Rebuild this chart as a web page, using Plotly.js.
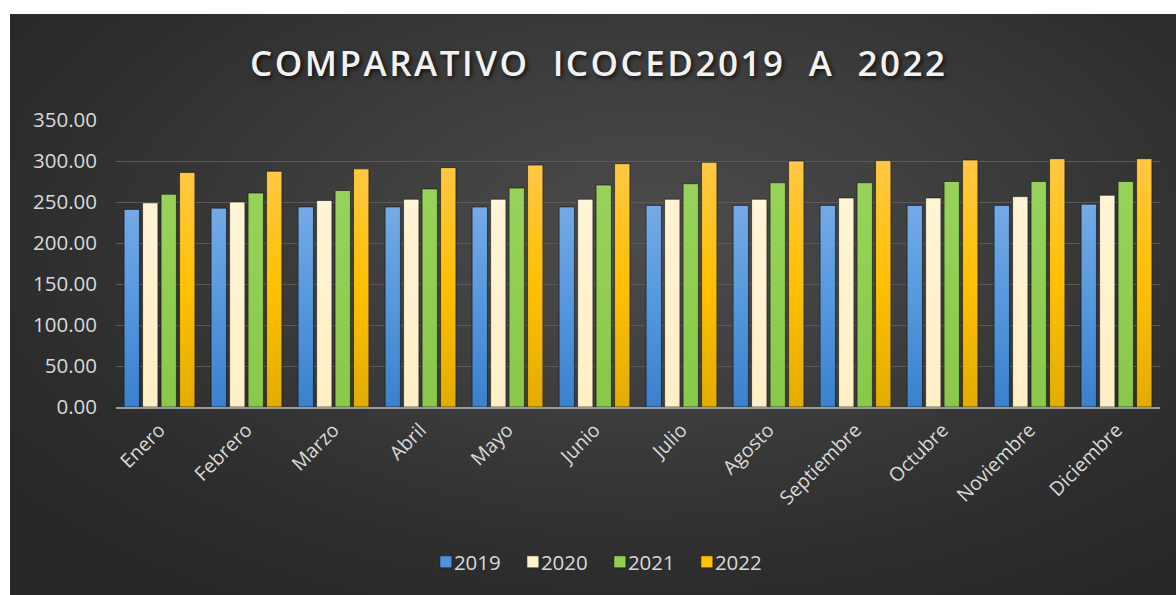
<!DOCTYPE html>
<html>
<head>
<meta charset="utf-8">
<script src="https://cdn.plot.ly/plotly-3.0.1.min.js"></script>
<style>
  html, body { margin: 0; padding: 0; background: #ffffff; width: 1176px; height: 595px; overflow: hidden; }
  #frame {
    position: absolute; left: 10px; top: 14px; width: 1166px; height: 581px;
    background: radial-gradient(ellipse 70% 75% at 55% 38%, #4c4c4c 0%, #3d3d3d 40%, #2e2e2e 75%, #272727 100%);
  }
  #chart { width: 1166px; height: 581px; }
  .gtitle { letter-spacing: 2.5px; }
  .barlayer .trace:nth-child(1) .point path { fill: url(#gBlue) !important; }
  .barlayer .trace:nth-child(2) .point path { fill: url(#gCream) !important; }
  .barlayer .trace:nth-child(3) .point path { fill: url(#gGreen) !important; }
  .barlayer .trace:nth-child(4) .point path { fill: url(#gGold) !important; }
  .legend .legendpoints { transform: translateX(12px); }
</style>
</head>
<body>
<svg width="0" height="0" style="position:absolute">
  <defs>
    <linearGradient id="gBlue" x1="0" y1="0" x2="0" y2="1">
      <stop offset="0" stop-color="#74aae6"/><stop offset="0.5" stop-color="#5497dd"/><stop offset="1" stop-color="#3a80cc"/>
    </linearGradient>
    <linearGradient id="gCream" x1="0" y1="0" x2="0" y2="1">
      <stop offset="0" stop-color="#fff4d6"/><stop offset="1" stop-color="#ffefc6"/>
    </linearGradient>
    <linearGradient id="gGreen" x1="0" y1="0" x2="0" y2="1">
      <stop offset="0" stop-color="#97d35a"/><stop offset="1" stop-color="#89c84a"/>
    </linearGradient>
    <linearGradient id="gGold" x1="0" y1="0" x2="0" y2="1">
      <stop offset="0" stop-color="#ffc845"/><stop offset="0.5" stop-color="#ffc000"/><stop offset="1" stop-color="#e3ac00"/>
    </linearGradient>
  </defs>
</svg>
<div id="frame"><div id="chart"></div></div>
<script>
const months = ["Enero","Febrero","Marzo","Abril","Mayo","Junio","Julio","Agosto","Septiembre","Octubre","Noviembre","Diciembre"];
const v2019 = [241.0, 242.5, 244.0, 244.0, 244.0, 244.0, 245.8, 245.8, 245.8, 245.8, 245.8, 247.4];
const v2020 = [249.0, 250.0, 251.8, 253.4, 253.4, 253.4, 253.4, 253.4, 255.0, 255.0, 256.6, 258.2];
const v2021 = [259.4, 261.0, 264.0, 265.9, 267.0, 270.7, 272.3, 273.5, 273.5, 275.0, 275.0, 275.0];
const v2022 = [285.9, 287.5, 290.4, 291.9, 295.0, 296.7, 298.4, 300.0, 300.5, 301.2, 302.8, 302.8];
const seriesNames = ["2019","2020","2021","2022"];
const seriesColors = ["#4f92dc","#fff2cc","#92d050","#ffc000"];
const seriesValues = [v2019, v2020, v2021, v2022];

const font = "Open Sans, Liberation Sans, sans-serif";
const traces = seriesValues.map((vals, i) => ({
  type: "bar",
  name: seriesNames[i],
  x: months,
  y: vals,
  marker: { color: seriesColors[i], line: { color: "rgba(20,20,20,0.6)", width: 1 } },
  hoverinfo: "x+y+name"
}));

const layout = {
  width: 1166, height: 581,
  paper_bgcolor: "rgba(0,0,0,0)",
  plot_bgcolor: "rgba(0,0,0,0)",
  margin: { l: 106, r: 16, t: 105.5, b: 185.5 },
  barmode: "group",
  bargap: 0.15,
  bargroupgap: 0.17,
  title: {
    text: "COMPARATIVO  ICOCED2019  A  2022",
    x: 0.505, xanchor: "center",
    y: 0.915, yanchor: "middle",
    font: { family: font, size: 35, color: "#f2f2f2", weight: 600, shadow: "2px 2px 4px rgba(0,0,0,0.7)" }
  },
  xaxis: {
    type: "category",
    tickangle: -45,
    tickfont: { family: font, size: 19.5, color: "#d9d9d9" },
    showline: true, linecolor: "#9a9a9a", linewidth: 2,
    showgrid: false, ticks: "", ticklabelstandoff: 2
  },
  yaxis: {
    range: [0, 350],
    tickvals: [0, 50, 100, 150, 200, 250, 300, 350],
    tickformat: ".2f",
    tickfont: { family: font, size: 20.5, color: "#d9d9d9" },
    gridcolor: "#5a5a5a", gridwidth: 1,
    zeroline: false, showline: false, ticks: "",
    ticklabelstandoff: 18
  },
  legend: {
    orientation: "h",
    x: 0.452, xanchor: "center",
    y: -0.54, yanchor: "middle",
    font: { family: font, size: 20.5, color: "#d9d9d9" },
    bgcolor: "rgba(0,0,0,0)",
    itemwidth: 30,
    entrywidth: 42, entrywidthmode: "pixels",
    traceorder: "normal"
  },
  showlegend: true
};

Plotly.newPlot("chart", traces, layout, { displayModeBar: false, staticPlot: true });
</script>
</body>
</html>
